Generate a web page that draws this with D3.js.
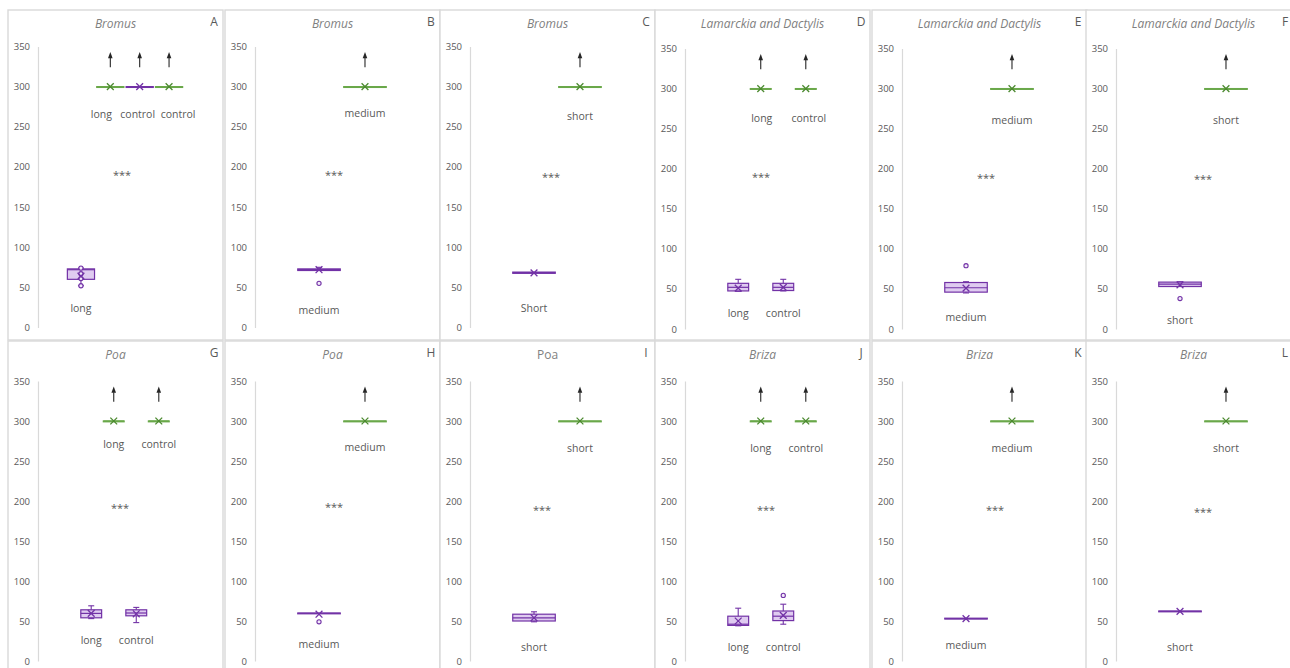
<!DOCTYPE html>
<html>
<head>
<meta charset="utf-8">
<script src="https://cdn.jsdelivr.net/npm/d3@7"></script>
<style>
  body { margin: 0; background: #fff; }
  svg { display: block; }
  text { font-family: "Open Sans", "DejaVu Sans", sans-serif; }
</style>
</head>
<body>
<svg id="chart" width="1290" height="668"></svg>
<script>
// ---------- data ----------
const panelLetters = ["A", "B", "C", "D", "E", "F", "G", "H", "I", "J", "K", "L"];
const panelTitles = ["Bromus", "Bromus", "Bromus",
  "Lamarckia and Dactylis", "Lamarckia and Dactylis", "Lamarckia and Dactylis",
  "Poa", "Poa", "Poa", "Briza", "Briza", "Briza"];
const titleItalic = [true, true, true, true, true, true, true, true, false, true, true, true];
const yTicks = [0, 50, 100, 150, 200, 250, 300, 350];

// series of each box, left to right ("p" = purple, "g" = green)
const boxSeries = [
  ["p", "g", "p", "g"], ["p", "g"], ["p", "g"],
  ["p", "g", "p", "g"], ["p", "g"], ["p", "g"],
  ["p", "g", "p", "g"], ["p", "g"], ["p", "g"],
  ["p", "g", "p", "g"], ["p", "g"], ["p", "g"]
];
const boxLabels = [
  ["long", "long", "control", "control"], ["medium", "medium"], ["Short", "short"],
  ["long", "long", "control", "control"], ["medium", "medium"], ["short", "short"],
  ["long", "long", "control", "control"], ["medium", "medium"], ["short", "short"],
  ["long", "long", "control", "control"], ["medium", "medium"], ["short", "short"]
];
// five-number summaries and means (values above 300 are shown capped at 300)
const mins = [
  [52, 300, 300, 300], [71, 300], [67.5, 300],
  [47, 300, 47.5, 300], [45, 300], [53, 300],
  [53, 300, 48, 300], [59, 300], [49, 300],
  [44, 300, 46, 300], [52.5, 300], [61.5, 300]
];
const q1s = [
  [60, 300, 300, 300], [71, 300], [67.5, 300],
  [47.5, 300, 48, 300], [46, 300], [53, 300],
  [54, 300, 56.5, 300], [59, 300], [50, 300],
  [44.5, 300, 50.5, 300], [52.5, 300], [61.5, 300]
];
const medians = [
  [72, 300, 300, 300], [72, 300], [68, 300],
  [52, 300, 52, 300], [51.5, 300], [56, 300],
  [59.5, 300, 60, 300], [59.5, 300], [54, 300],
  [46, 300, 56, 300], [53, 300], [62, 300]
];
const q3s = [
  [73, 300, 300, 300], [73, 300], [69, 300],
  [57, 300, 57, 300], [58, 300], [58.5, 300],
  [64, 300, 64, 300], [60, 300], [58.5, 300],
  [56, 300, 62.5, 300], [53.5, 300], [62.5, 300]
];
const maxs = [
  [74, 300, 300, 300], [75, 300], [69, 300],
  [62, 300, 62, 300], [59, 300], [59, 300],
  [69, 300, 67, 300], [60, 300], [61.5, 300],
  [66, 300, 71, 300], [53.5, 300], [62.5, 300]
];
const means = [
  [64, 300, 300, 300], [72, 300], [68, 300],
  [51, 300, 52, 300], [51, 300], [55, 300],
  [59.5, 300, 59, 300], [58.5, 300], [54, 300],
  [50, 300, 57, 300], [53, 300], [62, 300]
];
const pointValues = [
  [[74, 67, 61, 52], [], [], []], [[55], []], [[], []],
  [[], [], [], []], [[79], []], [[38], []],
  [[], [], [], []], [[49], []], [[], []],
  [[], [], [82], []], [[], []], [[], []]
];
const sigText = ["***", "***", "***", "***", "***", "***", "***", "***", "***", "***", "***", "***"];
const cappedAt = 300;

// ---------- layout ----------
const W = 1290, H = 668;
const colLeft = [8, 225, 440, 655, 872, 1086];
const panelW = 215;
const rowTop = [10, 341];
const rowBottom = [340, 700];
// y-pixel of 0 and 350 per panel
const yZero = [327.5, 327.5, 327.5, 329, 329, 329, 661, 661, 661, 661, 661, 661];
const yTop = [46.5, 46.5, 46.5, 48.5, 48.5, 48.5, 381, 381, 381, 381, 381, 381];
const outerPad = [1, 0.93, 0.93, 1.9, 0.93, 0.93, 1.9, 0.93, 0.93, 1.9, 0.93, 0.93];
// vertical anchors (in data units) of the category labels and the significance stars
const lowLabelAt = [24, 22, 24, 19, 14, 11, 26, 21, 17.5, 17.5, 20, 17.5];
const highLabelAt = [266, 267, 263, 263, 261, 261, 271, 267.5, 266, 266, 266, 266];
const sigAt = [190, 190, 187, 189, 188, 187, 191, 192.5, 189, 189, 189, 186];
const sigDx = [-3, -8, -6, -11, -3, 0, -5, -8, -15, -6, 6, 0];
const labelDx = [[0, -9, -2, 9], [0, 0], [0, 0], [0, 1, 0, 3], [0, 0], [0, 0],
  [0, 0, 0, 0], [0, 0], [0, 0], [0, 0, 0, 0], [0, 0], [0, 0]];

const colors = {
  p: { stroke: "#7232a6", fill: "#dfcbf0", mark: "#7232a6" },
  g: { stroke: "#6aa84a", fill: "#cfe6c2", mark: "#4c8a30" }
};
const gridGray = "#d9d9d9";
const textGray = "#595959";

const svg = d3.select("#chart");
svg.append("rect").attr("width", W).attr("height", H).attr("fill", "#fff");

panelLetters.forEach((letter, p) => {
  const row = Math.floor(p / 6), col = p % 6;
  const left = colLeft[col], top = rowTop[row];
  const right = left + panelW;
  const g = svg.append("g");

  // panel frame
  g.append("rect")
    .attr("x", left).attr("y", top)
    .attr("width", panelW).attr("height", rowBottom[row] - top)
    .attr("fill", "#fff").attr("stroke", gridGray).attr("stroke-width", 1.4);

  const axisX = left + 30;
  const y = d3.scaleLinear().domain([0, 350]).range([yZero[p], yTop[p]]);
  const n = boxSeries[p].length;
  const x = d3.scaleBand().domain(d3.range(n))
    .range([axisX, right - 11])
    .paddingInner(0.075).paddingOuter(outerPad[p]);
  const bw = x.bandwidth();
  const cx = i => x(i) + bw / 2;

  // title and panel letter
  g.append("text")
    .attr("x", left + panelW / 2).attr("y", top + 18)
    .attr("text-anchor", "middle")
    .attr("font-size", 12).attr("font-style", titleItalic[p] ? "italic" : "normal")
    .attr("fill", "#7f7f7f")
    .text(panelTitles[p]);
  g.append("text")
    .attr("x", Math.min(right - 9, W - 5)).attr("y", top + 16)
    .attr("text-anchor", "middle")
    .attr("font-size", 12).attr("fill", textGray)
    .text(letter);

  // value axis
  const axis = d3.axisLeft(y).tickValues(yTicks).tickSize(0).tickPadding(8);
  const ag = g.append("g").attr("transform", `translate(${axisX},0)`).call(axis);
  ag.select(".domain").attr("stroke", gridGray).attr("stroke-width", 1.2);
  ag.selectAll("text").attr("font-size", 9.5).attr("fill", textGray)
    .attr("font-family", "\"Open Sans\", sans-serif");

  // boxes
  boxSeries[p].forEach((s, i) => {
    const c = colors[s];
    const xc = cx(i);
    const yq3 = y(q3s[p][i]), yq1 = y(q1s[p][i]);
    const capW = 6;
    // whiskers
    g.append("line").attr("x1", xc).attr("x2", xc)
      .attr("y1", yq3).attr("y2", y(maxs[p][i]))
      .attr("stroke", c.stroke).attr("stroke-width", 1.1);
    g.append("line").attr("x1", xc).attr("x2", xc)
      .attr("y1", yq1).attr("y2", y(mins[p][i]))
      .attr("stroke", c.stroke).attr("stroke-width", 1.1);
    if (maxs[p][i] > q3s[p][i]) {
      g.append("line").attr("x1", xc - capW / 2).attr("x2", xc + capW / 2)
        .attr("y1", y(maxs[p][i])).attr("y2", y(maxs[p][i]))
        .attr("stroke", c.stroke).attr("stroke-width", 1.1);
    }
    if (mins[p][i] < q1s[p][i]) {
      g.append("line").attr("x1", xc - capW / 2).attr("x2", xc + capW / 2)
        .attr("y1", y(mins[p][i])).attr("y2", y(mins[p][i]))
        .attr("stroke", c.stroke).attr("stroke-width", 1.1);
    }
    // box body
    g.append("rect")
      .attr("x", x(i)).attr("y", yq3)
      .attr("width", bw).attr("height", Math.max(yq1 - yq3, 0.8))
      .attr("fill", c.fill).attr("stroke", c.stroke).attr("stroke-width", 1.2);
    // median
    g.append("line").attr("x1", x(i)).attr("x2", x(i) + bw)
      .attr("y1", y(medians[p][i])).attr("y2", y(medians[p][i]))
      .attr("stroke", c.stroke).attr("stroke-width", 1.2);
    // points
    pointValues[p][i].forEach(v => {
      g.append("circle").attr("cx", xc).attr("cy", y(v)).attr("r", 2.1)
        .attr("fill", "#f3ebfa").attr("stroke", c.stroke).attr("stroke-width", 1.1);
    });
    // mean marker (x)
    const ym = y(means[p][i]), m = 3.4;
    g.append("path")
      .attr("d", `M${xc - m},${ym - m}L${xc + m},${ym + m}M${xc - m},${ym + m}L${xc + m},${ym - m}`)
      .attr("stroke", c.mark).attr("stroke-width", 1.3).attr("fill", "none");

    // capped values get an upward arrow
    if (medians[p][i] >= cappedAt) {
      const yb = y(324), yt = y(343), yh = y(336);
      g.append("line").attr("x1", xc).attr("x2", xc).attr("y1", yb).attr("y2", yh)
        .attr("stroke", "#262626").attr("stroke-width", 1.1);
      g.append("path")
        .attr("d", `M${xc},${yt}L${xc - 2.3},${yh + 0.5}L${xc + 2.3},${yh + 0.5}Z`)
        .attr("fill", "#262626");
    }

    // category label
    const atY = medians[p][i] >= cappedAt ? highLabelAt[p] : lowLabelAt[p];
    g.append("text")
      .attr("x", xc + labelDx[p][i]).attr("y", y(atY))
      .attr("dy", "0.35em")
      .attr("text-anchor", "middle")
      .attr("font-size", 10.5).attr("fill", textGray)
      .text(boxLabels[p][i]);
  });

  // significance stars
  const midX = (x.range()[0] + x.range()[1]) / 2;
  g.append("text")
    .attr("x", midX + sigDx[p]).attr("y", y(sigAt[p]))
    .attr("dy", "0.35em")
    .attr("text-anchor", "middle")
    .attr("font-size", 11).attr("fill", textGray)
    .text(sigText[p]);
});
</script>
</body>
</html>
